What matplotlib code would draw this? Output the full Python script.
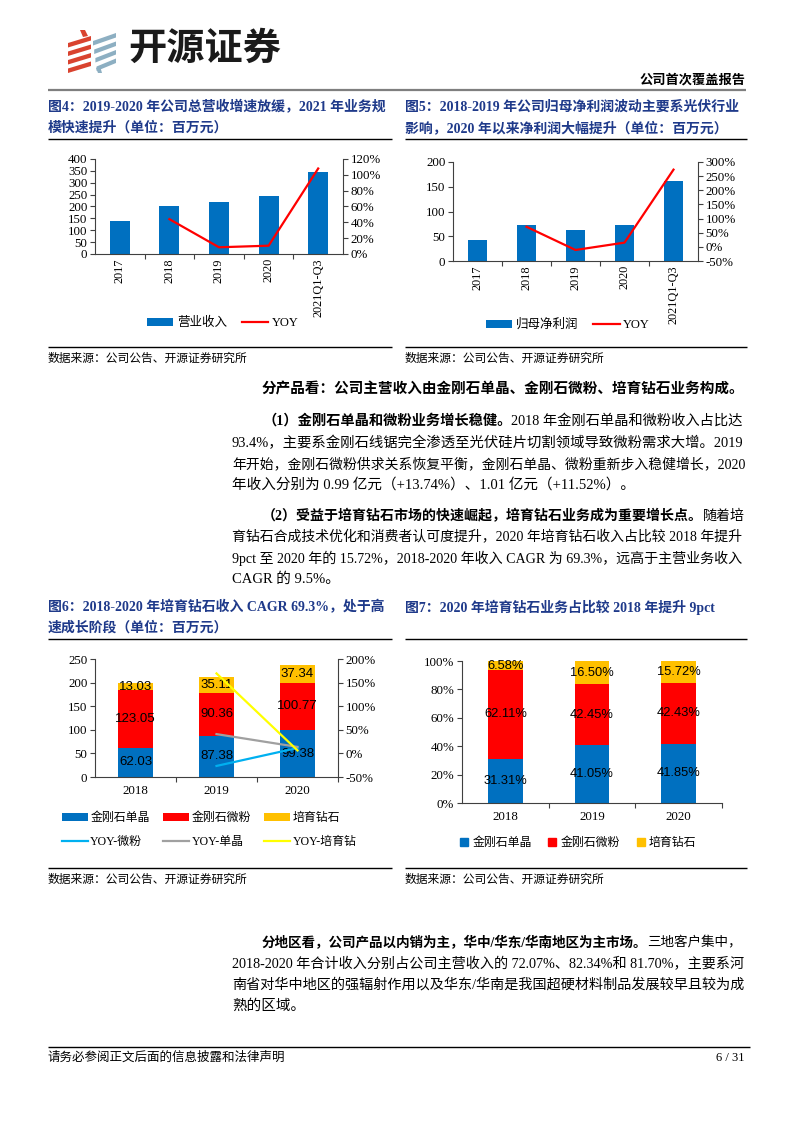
import matplotlib
matplotlib.use('Agg')
import matplotlib.pyplot as plt
import numpy as np
from matplotlib.patches import Polygon, Rectangle
from matplotlib.lines import Line2D
from matplotlib.ticker import FuncFormatter, MultipleLocator

# ---------------- data ----------------
cats1 = ['2017', '2018', '2019', '2020', '2021Q1-Q3']
revenue = [140, 203, 220, 245, 345]
revenue_yoy = [np.nan, 44, 8.5, 10.5, 108]

profit = [42, 72.5, 62.5, 72.5, 161.5]
profit_yoy = [np.nan, 71, -11, 15, 273]

cats3 = ['2018', '2019', '2020']
dan_jing = [62.03, 87.38, 99.38]
wei_fen = [123.05, 90.36, 100.77]
pei_yu = [13.03, 35.11, 37.34]
yoy_weifen = [np.nan, -26.57, 11.52]
yoy_danjing = [np.nan, 40.87, 13.74]
yoy_peiyu = [np.nan, 169.45, 6.35]

share_dan = [31.31, 41.05, 41.85]
share_wei = [62.11, 42.45, 42.43]
share_pei = [6.58, 16.50, 15.72]

# ---------------- figure ----------------
W, H = 793, 1122
SER = ['Liberation Serif', 'Noto Sans CJK SC']
SANS = ['Liberation Sans', 'Noto Sans CJK SC']
plt.rcParams['font.family'] = SER
fig = plt.figure(figsize=(W / 100, H / 100), dpi=100)
R = fig.canvas.get_renderer()

bg = fig.add_axes([0, 0, 1, 1], zorder=-5)
bg.set_xlim(0, W)
bg.set_ylim(H, 0)
bg.axis('off')

BLUE = '#0070C0'
RED = '#FF0000'
GOLD = '#FFC000'
NAVY = '#1F3A8A'
SPINE = '#404040'


def axpx(x0, y0, x1, y1):
    return fig.add_axes([x0 / W, 1 - y1 / H, (x1 - x0) / W, (y1 - y0) / H])


def hline(x0, x1, y, color='black', lw=1.0):
    bg.plot([x0, x1], [y, y], color=color, lw=lw, solid_capstyle='butt')


def draw_line(x, y, parts, size=10.5, right=None, color='black'):
    def place(sz):
        objs, cx = [], x
        for s, b in parts:
            t = bg.text(cx, y, s, fontsize=sz, fontweight='bold' if b else 'normal',
                        va='center', ha='left', family=SER, color=color)
            cx += t.get_window_extent(R).width
            objs.append(t)
        return objs, cx
    objs, end = place(size)
    if right is not None:
        f = (right - x) / (end - x)
        if 0.85 < f < 1.15:
            for o in objs:
                o.remove()
            place(size * f)


# ---------------- header ----------------
red_c = '#D9432F'
gb_c = '#8DAFC2'
for i in range(4):
    yb = 38 + i * 8.5
    bg.add_patch(Polygon([(68, yb + 5), (91, yb - 2), (91, yb + 2.5), (68, yb + 9.5)],
                         closed=True, color=red_c, lw=0))
bg.add_patch(Polygon([(80, 30), (85, 30), (88, 36), (83, 37)], closed=True, color=red_c, lw=0))
for i in range(4):
    yb = 36 + i * 8.5
    x0 = 93 + i * 1.2
    bg.add_patch(Polygon([(x0, yb + 5), (116, yb - 3), (116, yb + 1.5), (x0, yb + 9.5)],
                         closed=True, color=gb_c, lw=0))
bg.add_patch(Polygon([(96, 68), (100, 66), (102, 73), (98, 73)], closed=True, color=gb_c, lw=0))

bg.text(128, 50, '开源证券', fontsize=27.5, fontweight='bold', family=SER,
        va='center', ha='left', color='#1a1a1a')
bg.text(745, 80, '公司首次覆盖报告', fontsize=9.5, fontweight='bold', family=SER,
        va='center', ha='right', color='black')
hline(48, 746, 89.5, color='#7f7f7f', lw=1.6)

# ---------------- titles & frames ----------------
tkw = dict(fontsize=10, fontweight='bold', color=NAVY, family=SER, va='center', ha='left')
bg.text(48, 107, '图4：2019-2020 年公司总营收增速放缓，2021 年业务规', **tkw)
bg.text(48, 128, '模快速提升（单位：百万元）', **tkw)
bg.text(405, 107, '图5：2018-2019 年公司归母净利润波动主要系光伏行业', **tkw)
bg.text(405, 128, '影响，2020 年以来净利润大幅提升（单位：百万元）', **tkw)
bg.text(48, 607, '图6：2018-2020 年培育钻石收入 CAGR 69.3%，处于高', **tkw)
bg.text(48, 628, '速成长阶段（单位：百万元）', **tkw)
bg.text(405, 607, '图7：2020 年培育钻石业务占比较 2018 年提升 9pct', **tkw)

hline(48, 392, 139)
hline(405, 747, 139)
hline(48, 392, 347)
hline(405, 747, 347)
hline(48, 392, 639)
hline(405, 747, 639)
hline(48, 392, 868)
hline(405, 747, 868)

skw = dict(fontsize=8.5, family=SER, va='center', ha='left', color='black')
bg.text(48, 359, '数据来源：公司公告、开源证券研究所', **skw)
bg.text(405, 359, '数据来源：公司公告、开源证券研究所', **skw)
bg.text(48, 880, '数据来源：公司公告、开源证券研究所', **skw)
bg.text(405, 880, '数据来源：公司公告、开源证券研究所', **skw)

# ---------------- body text ----------------
L, RT, IND = 232, 745, 262
draw_line(IND, 389, [('分产品看：公司主营收入由金刚石单晶、金刚石微粉、培育钻石业务构成。', True)])
draw_line(IND, 421, [('（1）金刚石单晶和微粉业务增长稳健。', True), ('2018 年金刚石单晶和微粉收入占比达', False)], right=RT)
draw_line(L, 443, [('93.4%，主要系金刚石线锯完全渗透至光伏硅片切割领域导致微粉需求大增。2019', False)], right=RT)
draw_line(L, 464, [('年开始，金刚石微粉供求关系恢复平衡，金刚石单晶、微粉重新步入稳健增长，2020', False)], right=RT)
draw_line(L, 485, [('年收入分别为 0.99 亿元（+13.74%）、1.01 亿元（+11.52%）。', False)])
draw_line(IND, 516, [('（2）受益于培育钻石市场的快速崛起，培育钻石业务成为重要增长点。', True), ('随着培', False)], right=RT)
draw_line(L, 537, [('育钻石合成技术优化和消费者认可度提升，2020 年培育钻石收入占比较 2018 年提升', False)], right=RT)
draw_line(L, 558, [('9pct 至 2020 年的 15.72%，2018-2020 年收入 CAGR 为 69.3%，远高于主营业务收入', False)], right=RT)
draw_line(L, 579, [('CAGR 的 9.5%。', False)])

draw_line(IND, 943, [('分地区看，公司产品以内销为主，华中/华东/华南地区为主市场。', True), ('三地客户集中，', False)], right=RT)
draw_line(L, 964, [('2018-2020 年合计收入分别占公司主营收入的 72.07%、82.34%和 81.70%，主要系河', False)], right=RT)
draw_line(L, 985, [('南省对华中地区的强辐射作用以及华东/华南是我国超硬材料制品发展较早且较为成', False)], right=RT)
draw_line(L, 1006, [('熟的区域。', False)])

# footer
hline(48, 750, 1047)
bg.text(48, 1058, '请务必参阅正文后面的信息披露和法律声明', fontsize=9, family=SER, va='center', ha='left')
bg.text(745, 1058, '6 / 31', fontsize=9, family=SER, va='center', ha='right')

pct = FuncFormatter(lambda v, p: f'{v:.0f}%')
TICKFS = 9.3


def style(ax, right=None):
    for s in ['top']:
        ax.spines[s].set_visible(False)
    ax.spines['right'].set_visible(False)
    for s in ['left', 'bottom']:
        ax.spines[s].set_color(SPINE)
        ax.spines[s].set_linewidth(0.8)
    ax.tick_params(axis='both', which='major', direction='out', length=3.5, width=0.8,
                   color=SPINE, labelsize=TICKFS, pad=2)
    ax.tick_params(axis='x', which='minor', length=0, labelsize=TICKFS - 0.5, pad=3)
    ax.set_facecolor('none')
    if right is not None:
        for s in ['top', 'left', 'bottom']:
            right.spines[s].set_visible(False)
        right.spines['right'].set_color(SPINE)
        right.spines['right'].set_linewidth(0.8)
        right.tick_params(axis='y', direction='out', length=3.5, width=0.8, color=SPINE,
                          labelsize=TICKFS, pad=2)


def xcats(ax, cats, rot=0):
    n = len(cats)
    ax.set_xlim(-0.5, n - 0.5)
    ax.set_xticks(np.arange(0.5, n - 0.5 + 0.01, 1.0) if rot == 0 else np.arange(0.5, n - 0.5, 1.0))
    ax.set_xticklabels([])
    ax.set_xticks(np.arange(n), minor=True)
    ax.set_xticklabels(cats, minor=True, rotation=rot,
                       va='top', ha='center')


# ---------------- chart 1 ----------------
ax1 = axpx(95, 159, 343, 254)
x = np.arange(len(cats1))
b1 = ax1.bar(x, revenue, width=0.4, color=BLUE, label='营业收入')
ax1.set_ylim(0, 400)
ax1.yaxis.set_major_locator(MultipleLocator(50))
xcats(ax1, cats1, rot=90)
ax1r = ax1.twinx()
l1, = ax1r.plot(x, revenue_yoy, color=RED, lw=1.6, label='YOY')
ax1r.set_ylim(0, 120)
ax1r.yaxis.set_major_locator(MultipleLocator(20))
ax1r.yaxis.set_major_formatter(pct)
style(ax1, ax1r)
fig.legend(handles=[b1, l1], labels=['营业收入', 'YOY'], loc='center',
           bbox_to_anchor=(223 / W, 1 - 323 / H), ncol=2, frameon=False,
           prop={'family': SER, 'size': 9}, handlelength=2.1, handleheight=0.6,
           handletextpad=0.3, columnspacing=1.2)

# ---------------- chart 2 ----------------
ax2 = axpx(453, 162, 698, 261)
b2 = ax2.bar(x, profit, width=0.4, color=BLUE)
ax2.set_ylim(0, 200)
ax2.yaxis.set_major_locator(MultipleLocator(50))
xcats(ax2, cats1, rot=90)
ax2r = ax2.twinx()
l2, = ax2r.plot(x, profit_yoy, color=RED, lw=1.6)
ax2r.set_ylim(-50, 300)
ax2r.yaxis.set_major_locator(MultipleLocator(50))
ax2r.yaxis.set_major_formatter(pct)
style(ax2, ax2r)
fig.legend(handles=[b2, l2], labels=['归母净利润', 'YOY'], loc='center',
           bbox_to_anchor=(568 / W, 1 - 325 / H), ncol=2, frameon=False,
           prop={'family': SER, 'size': 9}, handlelength=2.1, handleheight=0.6,
           handletextpad=0.3, columnspacing=1.2)

# ---------------- chart 3 ----------------
ax3 = axpx(95, 659, 338, 777)
x3 = np.arange(len(cats3))
c_dan = ax3.bar(x3, dan_jing, width=0.42, color=BLUE)
c_wei = ax3.bar(x3, wei_fen, width=0.42, bottom=dan_jing, color=RED)
bot2 = [a + b for a, b in zip(dan_jing, wei_fen)]
c_pei = ax3.bar(x3, pei_yu, width=0.42, bottom=bot2, color=GOLD)
for c in (c_dan, c_wei, c_pei):
    ax3.bar_label(c, fmt='%.2f', label_type='center', fontsize=9.5,
                  family=SANS, color='black')
ax3.set_ylim(0, 250)
ax3.yaxis.set_major_locator(MultipleLocator(50))
xcats(ax3, cats3)
ax3r = ax3.twinx()
lw_, = ax3r.plot(x3, yoy_weifen, color='#00B0F0', lw=1.6)
ld_, = ax3r.plot(x3, yoy_danjing, color='#A0A0A0', lw=1.6)
lp_, = ax3r.plot(x3, yoy_peiyu, color='#FFFF00', lw=1.6)
ax3r.set_ylim(-50, 200)
ax3r.yaxis.set_major_locator(MultipleLocator(50))
ax3r.yaxis.set_major_formatter(pct)
style(ax3, ax3r)
ax3.tick_params(axis='x', which='minor', pad=6, labelsize=9.3)
fig.legend(handles=[c_dan, lw_, c_wei, ld_, c_pei, lp_],
           labels=['金刚石单晶', 'YOY-微粉', '金刚石微粉', 'YOY-单晶', '培育钻石', 'YOY-培育钻'],
           loc='center', bbox_to_anchor=(209 / W, 1 - 830 / H), ncol=3, frameon=False,
           prop={'family': SER, 'size': 8.6}, handlelength=2.2, handleheight=0.6,
           handletextpad=0.2, columnspacing=1.1, labelspacing=0.95)

# ---------------- chart 4 ----------------
ax4 = axpx(462, 661, 722, 803)
s_dan = ax4.bar(x3, share_dan, width=0.4, color=BLUE)
s_wei = ax4.bar(x3, share_wei, width=0.4, bottom=share_dan, color=RED)
sb2 = [a + b for a, b in zip(share_dan, share_wei)]
s_pei = ax4.bar(x3, share_pei, width=0.4, bottom=sb2, color=GOLD)
for c in (s_dan, s_wei, s_pei):
    ax4.bar_label(c, fmt='%.2f%%', label_type='center', fontsize=9.3,
                  family=SANS, color='black')
ax4.set_ylim(0, 100)
ax4.yaxis.set_major_locator(MultipleLocator(20))
ax4.yaxis.set_major_formatter(pct)
xcats(ax4, cats3)
style(ax4)
ax4.tick_params(axis='x', which='minor', pad=6, labelsize=9.3)
hd = [Line2D([], [], ls='', marker='s', markersize=6, color=c) for c in (BLUE, RED, GOLD)]
fig.legend(handles=hd, labels=['金刚石单晶', '金刚石微粉', '培育钻石'], loc='center',
           bbox_to_anchor=(578 / W, 1 - 843 / H), ncol=3, frameon=False,
           prop={'family': SER, 'size': 8.6}, handlelength=0.8, handletextpad=0.3,
           columnspacing=1.3)

fig.savefig('out.png', dpi=100)
